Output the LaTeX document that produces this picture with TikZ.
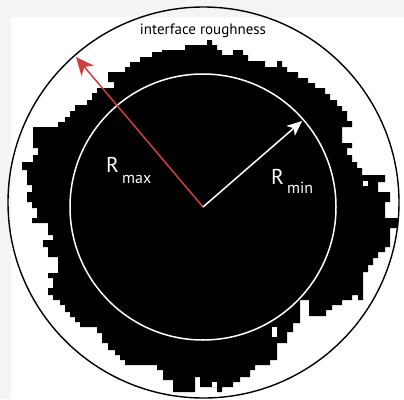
\documentclass[tikz,border=0pt]{standalone}
\usepackage{fontspec}
\newfontfamily\lblfont{PT Sans}
\usetikzlibrary{arrows.meta}
\definecolor{bgray}{RGB}{244,244,244}
\definecolor{arrred}{RGB}{208,64,64}
\tikzset{
  radline/.style={line width=1.5pt},
  bigR/.style={anchor=base west, text=white, inner sep=0pt, font=\lblfont\fontsize{21.5}{21.5}\selectfont},
  subR/.style={anchor=base west, text=white, inner sep=0pt, font=\lblfont\fontsize{16}{16}\selectfont},
}
\begin{document}
\begin{tikzpicture}[x=1pt,y=-1pt]
\useasboundingbox (0,0) rectangle (404,399);
\fill[bgray] (0,0) rectangle (404,399);
\fill[white] (11,17) rectangle (404,399);
% rough interface (pixelated blob)
\fill[black] (33,162) -- (33,155) -- (38,155) -- (38,148) -- (33,148) -- (33,127)
 -- (58,127) -- (58,122) -- (65,122) -- (65,117) -- (70,117) -- (70,111) -- (75,111)
 -- (75,105) -- (87,105) -- (87,100) -- (92,100) -- (92,93) -- (97,93) -- (97,88)
 -- (114,88) -- (114,82) -- (108,82) -- (108,72) -- (125,72) -- (125,67) -- (130,67)
 -- (130,62) -- (140,62) -- (140,57) -- (152,57) -- (152,52) -- (162,52) -- (162,50)
 -- (185,50) -- (185,45) -- (207,45) -- (207,40) -- (212,40) -- (212,45) -- (217,45)
 -- (217,50) -- (222,50) -- (222,55) -- (233,55) -- (233,50) -- (243,50) -- (243,55)
 -- (248,55) -- (248,61) -- (265,61) -- (265,67) -- (277,67) -- (277,61) -- (282,61)
 -- (282,67) -- (287,67) -- (287,72) -- (298,72) -- (298,78) -- (308,78) -- (308,83)
 -- (315,83) -- (315,88) -- (325,88) -- (325,94) -- (330,94) -- (330,100) -- (337,100)
 -- (337,106) -- (342,106) -- (342,111) -- (347,111) -- (347,121) -- (352,121)
 -- (352,127) -- (342,127) -- (342,143) -- (352,143) -- (352,148) -- (347,148)
 -- (347,155) -- (352,155) -- (352,162) -- (357,162) -- (357,168) -- (362,168)
 -- (362,175) -- (385,175) -- (385,182) -- (378,182) -- (378,192) -- (390,192)
 -- (390,202) -- (385,202) -- (385,218) -- (398,218) -- (398,228) -- (390,228)
 -- (390,247) -- (385,247) -- (385,252) -- (378,252) -- (378,258) -- (373,258)
 -- (373,265) -- (368,265) -- (368,272) -- (363,272) -- (363,300) -- (358,300)
 -- (358,295) -- (352,295) -- (352,300) -- (342,300) -- (342,305) -- (332,305)
 -- (332,310) -- (326,310) -- (326,316) -- (309,316) -- (309,300) -- (300,300)
 -- (300,323) -- (293,323) -- (293,332) -- (287,332) -- (287,343) -- (277,343)
 -- (277,360) -- (270,360) -- (270,365) -- (255,365) -- (255,370) -- (250,370)
 -- (250,377) -- (240,377) -- (240,382) -- (233,382) -- (233,387) -- (222,387)
 -- (222,392) -- (217,392) -- (217,387) -- (200,387) -- (200,377) -- (195,377)
 -- (195,392) -- (173,392) -- (173,380) -- (163,380) -- (163,370) -- (157,370)
 -- (157,365) -- (125,365) -- (125,360) -- (120,360) -- (120,355) -- (115,355)
 -- (115,350) -- (108,350) -- (108,343) -- (102,343) -- (102,333) -- (97,333)
 -- (97,327) -- (80,327) -- (80,322) -- (75,322) -- (75,317) -- (70,317) -- (70,312)
 -- (65,312) -- (65,305) -- (60,305) -- (60,300) -- (53,300) -- (53,295) -- (48,295)
 -- (48,288) -- (53,288) -- (53,278) -- (48,278) -- (48,273) -- (58,273) -- (58,257)
 -- (48,257) -- (48,247) -- (43,247) -- (43,240) -- (53,240) -- (53,235) -- (48,235)
 -- (48,223) -- (32,223) -- (32,218) -- (37,218) -- (37,208) -- (32,208) -- (32,202)
 -- (27,202) -- (27,192) -- (32,192) -- (32,185) -- (27,185) -- (27,170) -- (22,170)
 -- (22,162) -- cycle;
\fill[white] (363,181) rectangle (368,186);
\fill[white] (272,327) rectangle (277,337);
\fill[white] (212,382) rectangle (217,387);
% circle of minimum radius
\draw[white, line width=1.5pt] (203,207) circle[radius=133pt];
% radii
\coordinate (c) at (203,207);
\coordinate (tmax) at (76,57);
\coordinate (tmin) at (302,121);
\draw[radline, arrred, -{Stealth[length=18pt,width=16pt,inset=5pt]}] (c) -- (tmax);
\draw[radline, white, -{Stealth[length=15pt,width=13pt,inset=4pt]}] (c) -- (tmin);
% labels
\node[bigR] (Rmax) at (106,172) {R};
\node[subR] (smax) at (122,183) {max};
\node[bigR] (Rmin) at (271,184) {R};
\node[subR] (smin) at (287,193) {min};
% outer circle
\draw[black, line width=1.4pt] (203.5,202.5) circle[radius=195.5pt];
\node[font=\lblfont\fontsize{15}{15}\selectfont, inner sep=0pt, anchor=base] (title) at (203,34) {interface roughness};
\end{tikzpicture}
\end{document}
